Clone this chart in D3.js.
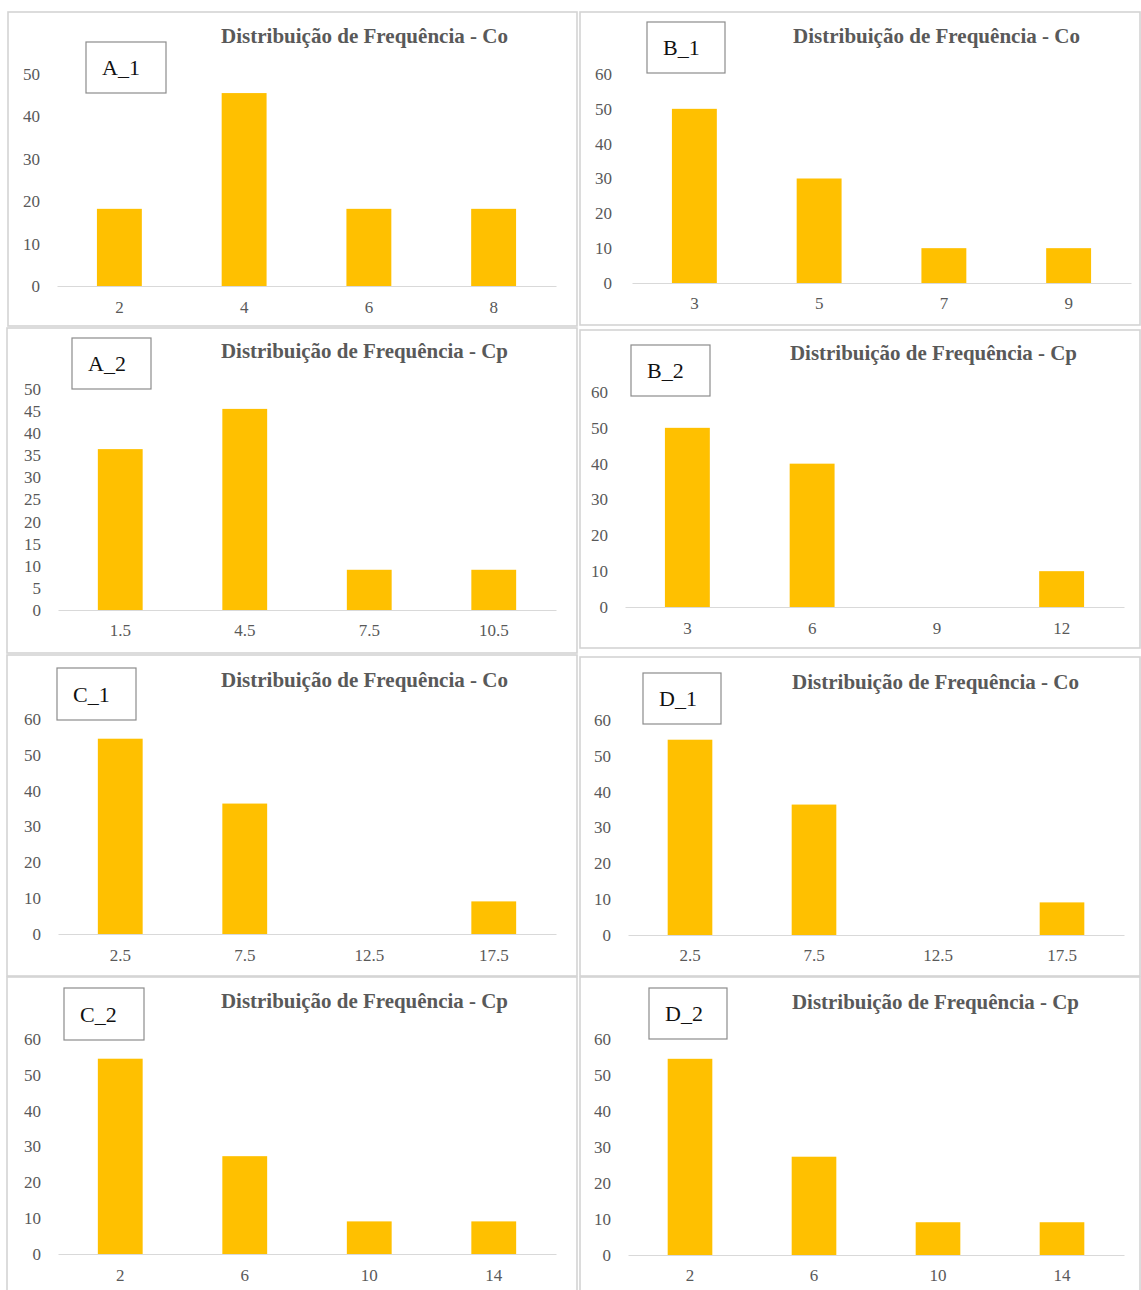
<!DOCTYPE html>
<html>
<head>
<meta charset="utf-8">
<script src="https://cdn.jsdelivr.net/npm/d3@7"></script>
<style>
  html, body { margin: 0; padding: 0; background: #fff; }
  svg { display: block; }
</style>
</head>
<body>
<script>
// ---------------- DATA ----------------
const panelIds = ["A_1", "B_1", "A_2", "B_2", "C_1", "D_1", "C_2", "D_2"];
const titleCo = "Distribuição de Frequência - Co";
const titleCp = "Distribuição de Frequência - Cp";
const panelTitles = [titleCo, titleCo, titleCp, titleCp, titleCo, titleCo, titleCp, titleCp];

const catsA1 = ["2", "4", "6", "8"];
const valsA1 = [18.2, 45.5, 18.2, 18.2];
const catsB1 = ["3", "5", "7", "9"];
const valsB1 = [50, 30, 10, 10];
const catsA2 = ["1.5", "4.5", "7.5", "10.5"];
const valsA2 = [36.4, 45.5, 9.1, 9.1];
const catsB2 = ["3", "6", "9", "12"];
const valsB2 = [50, 40, 0, 10];
const catsC1 = ["2.5", "7.5", "12.5", "17.5"];
const valsC1 = [54.5, 36.4, 0, 9.1];
const catsD1 = ["2.5", "7.5", "12.5", "17.5"];
const valsD1 = [54.5, 36.4, 0, 9.1];
const catsC2 = ["2", "6", "10", "14"];
const valsC2 = [54.5, 27.3, 9.1, 9.1];
const catsD2 = ["2", "6", "10", "14"];
const valsD2 = [54.5, 27.3, 9.1, 9.1];

const ticks50by10 = [0, 10, 20, 30, 40, 50];
const ticks50by5 = [0, 5, 10, 15, 20, 25, 30, 35, 40, 45, 50];
const ticks60by10 = [0, 10, 20, 30, 40, 50, 60];

const panelCats = [catsA1, catsB1, catsA2, catsB2, catsC1, catsD1, catsC2, catsD2];
const panelVals = [valsA1, valsB1, valsA2, valsB2, valsC1, valsD1, valsC2, valsD2];
const panelTicks = [ticks50by10, ticks60by10, ticks50by5, ticks60by10, ticks60by10, ticks60by10, ticks60by10, ticks60by10];

// ---------------- LAYOUT ----------------
// frame [x0,y0,x1,y1], plot y0/yTop, axis x0/x1, y-label right edge, tag box [x,y,w,h], title x/baseline, x-label center y
const layout = [
  {frame:[8,12,577,326],   y0:286,  yTop:74,   ax0:57,  ax1:556,  lr:40,  tag:[86,42,80,51],   tx:221, ty:43,   xl:307},
  {frame:[580,12,1140,325],y0:283,  yTop:74,   ax0:632, ax1:1131, lr:612, tag:[647,22,78,51],   tx:793, ty:43,   xl:303},
  {frame:[7,328,577,653],  y0:610,  yTop:389,  ax0:58,  ax1:556,  lr:41,  tag:[72,338,79,51],   tx:221, ty:358,  xl:630},
  {frame:[580,330,1140,648],y0:607, yTop:392,  ax0:625, ax1:1124, lr:608, tag:[631,345,79,51],  tx:790, ty:360,  xl:628},
  {frame:[7,655,577,976],  y0:934,  yTop:719,  ax0:58,  ax1:556,  lr:41,  tag:[57,668,79,52],   tx:221, ty:687,  xl:955},
  {frame:[580,657,1140,976],y0:935, yTop:720,  ax0:628, ax1:1124, lr:611, tag:[643,673,78,51],  tx:792, ty:689,  xl:955},
  {frame:[7,977,577,1300], y0:1254, yTop:1039, ax0:58,  ax1:556,  lr:41,  tag:[64,988,80,52],   tx:221, ty:1008, xl:1275},
  {frame:[580,977,1140,1300],y0:1255,yTop:1039,ax0:628, ax1:1124, lr:611, tag:[649,988,78,51],  tx:792, ty:1009, xl:1275}
];

const W = 1141, H = 1290;
const svg = d3.select("body").append("svg").attr("width", W).attr("height", H);
svg.append("rect").attr("width", W).attr("height", H).attr("fill", "#fff");

const serif = "'Liberation Serif', 'Times New Roman', serif";
const textGray = "#595959";

panelIds.forEach((id, i) => {
  const L = layout[i];
  const cats = panelCats[i], vals = panelVals[i], ticks = panelTicks[i];
  const g = svg.append("g");

  // frame
  g.append("rect")
    .attr("x", L.frame[0]).attr("y", L.frame[1])
    .attr("width", L.frame[2] - L.frame[0]).attr("height", L.frame[3] - L.frame[1])
    .attr("fill", "#fff").attr("stroke", "#d4d4d4").attr("stroke-width", 1.6);

  const x = d3.scaleBand().domain(cats).range([L.ax0, L.ax1]).paddingInner(0.64).paddingOuter(0.32);
  const y = d3.scaleLinear().domain([0, d3.max(ticks)]).range([L.y0, L.yTop]);

  // bars
  g.selectAll("rect.bar").data(vals).join("rect")
    .attr("class", "bar")
    .attr("x", (d, j) => x(cats[j]))
    .attr("width", x.bandwidth())
    .attr("y", d => y(d))
    .attr("height", d => y(0) - y(d))
    .attr("fill", "#FFC000");

  // x axis
  const xa = g.append("g").attr("transform", `translate(0,${L.y0})`)
    .call(d3.axisBottom(x).tickSize(0).tickSizeOuter(0));
  xa.select(".domain").attr("stroke", "#d9d9d9").attr("stroke-width", 1.2);
  xa.selectAll("text")
    .attr("y", L.xl - L.y0).attr("dy", "0.35em")
    .attr("font-family", serif).attr("font-size", 17).attr("fill", textGray);

  // y axis labels
  const ya = g.append("g").attr("transform", `translate(${L.lr},0)`)
    .call(d3.axisLeft(y).tickValues(ticks).tickSize(0).tickPadding(0).tickFormat(d3.format("d")));
  ya.select(".domain").remove();
  ya.selectAll("text")
    .attr("font-family", serif).attr("font-size", 17).attr("fill", textGray);

  // title
  g.append("text")
    .attr("x", L.tx).attr("y", L.ty)
    .attr("font-family", serif).attr("font-weight", "bold").attr("font-size", 21)
    .attr("fill", textGray)
    .attr("textLength", 287).attr("lengthAdjust", "spacingAndGlyphs")
    .text(panelTitles[i]);

  // tag box
  g.append("rect")
    .attr("x", L.tag[0]).attr("y", L.tag[1]).attr("width", L.tag[2]).attr("height", L.tag[3])
    .attr("fill", "#fff").attr("stroke", "#8c8c8c").attr("stroke-width", 1.2);
  g.append("text")
    .attr("x", L.tag[0] + 16).attr("y", L.tag[1] + L.tag[3] / 2).attr("dy", "0.35em")
    .attr("font-family", serif).attr("font-size", 22).attr("fill", "#111")
    .text(id);
});
</script>
</body>
</html>
